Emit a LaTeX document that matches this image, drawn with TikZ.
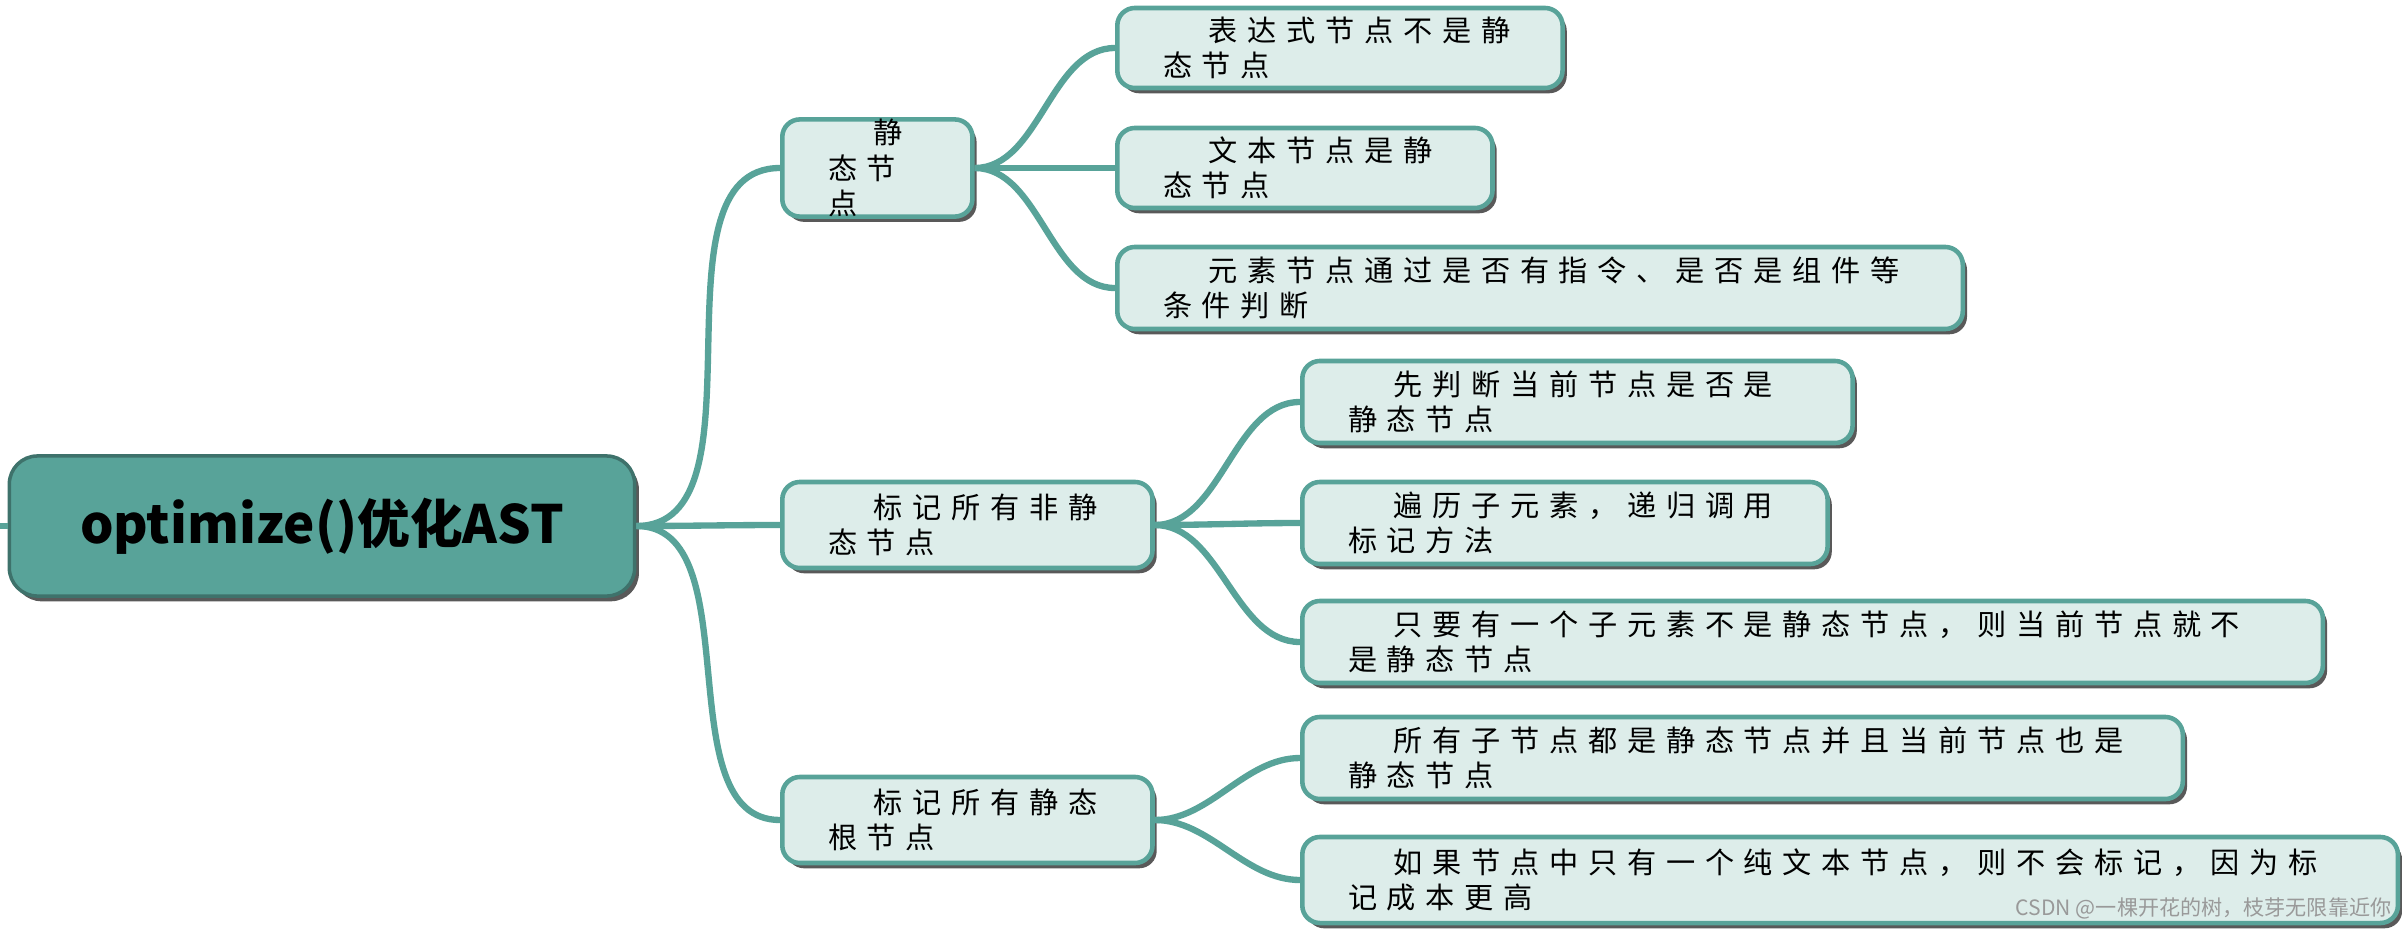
\documentclass[tikz,border=0pt]{standalone}
\usepackage{fontspec}
\usetikzlibrary{shadows}
\setmainfont{Noto Sans CJK SC}
\begin{document}
\begin{tikzpicture}[x=0.01cm,y=-0.01cm,
  every node/.style={inner sep=0pt},
  lvl/.style={draw=teal0,fill=fill0,line width=1.3pt,rounded corners=5pt,align=left,
    font=\fontsize{8.3pt}{10pt}\selectfont,text=black,
    drop shadow={shadow xshift=1.2pt,shadow yshift=-1.5pt,fill=black!65,opacity=1}},
  conn/.style={draw=teal0,line width=1.8pt}]
\definecolor{teal0}{HTML}{58A399}
\definecolor{fill0}{HTML}{DDEDEA}
\useasboundingbox (0,0) rectangle (2402,930);
\node[draw=teal0!70!black,fill=teal0,line width=1pt,rounded corners=8pt,minimum width=6.25cm,minimum height=1.4cm,
  drop shadow={shadow xshift=1.2pt,shadow yshift=-1.5pt,fill=black!65,opacity=1}] (root) at (322,526) {};
\node[font=\fontsize{15pt}{18pt}\selectfont\bfseries] (rt) at (root) {optimize()优化AST};
\coordinate (L) at (0,526);
\draw[conn] (L) -- (root.west);
\newcommand\bx[6]{\pgfmathsetmacro\bw{#4/100}\pgfmathsetmacro\bh{#5/100}%
  \node[lvl,minimum width=\bw cm,minimum height=\bh cm,anchor=west,text width=\bw cm-26pt] (#1) at (#2,#3) {\hspace*{13pt}#6};}
\bx{a}{780}{168}{190}{82}{静 态 节 点}
\bx{b}{780}{525}{370}{86}{标 记 所 有 非 静 态 节 点}
\bx{c}{780}{820}{370}{86}{标 记 所 有 静 态 根 节 点}
\bx{a1}{1115}{48}{445}{80}{表 达 式 节 点 不 是 静 态 节 点}
\bx{a2}{1115}{168}{375}{80}{文 本 节 点 是 静 态 节 点}
\bx{a3}{1115}{288}{845}{82}{元 素 节 点 通 过 是 否 有 指 令 、 是 否 是 组 件 等 条 件 判 断}
\bx{b1}{1300}{402}{550}{82}{先 判 断 当 前 节 点 是 否 是 静 态 节 点}
\bx{b2}{1300}{523}{525}{82}{遍 历 子 元 素 ， 递 归 调 用 标 记 方 法}
\bx{b3}{1300}{642}{1020}{82}{只 要 有 一 个 子 元 素 不 是 静 态 节 点 ， 则 当 前 节 点 就 不 是 静 态 节 点}
\bx{c1}{1300}{758}{880}{82}{所 有 子 节 点 都 是 静 态 节 点 并 且 当 前 节 点 也 是 静 态 节 点}
\bx{c2}{1300}{880}{1095}{86}{如 果 节 点 中 只 有 一 个 纯 文 本 节 点 ， 则 不 会 标 记 ， 因 为 标 记 成 本 更 高}
\foreach \p/\k in {root/a,root/b,root/c,a/a1,a/a2,a/a3,b/b1,b/b2,b/b3,c/c1,c/c2}
  \draw[conn] (\p.east) to[out=0,in=180,looseness=0.9] (\k.west);
\node[font=\fontsize{6pt}{7pt}\selectfont,text=gray!80,anchor=east] (wm) at (2392,908) {CSDN @一棵开花的树，枝芽无限靠近你};
\end{tikzpicture}
\end{document}
